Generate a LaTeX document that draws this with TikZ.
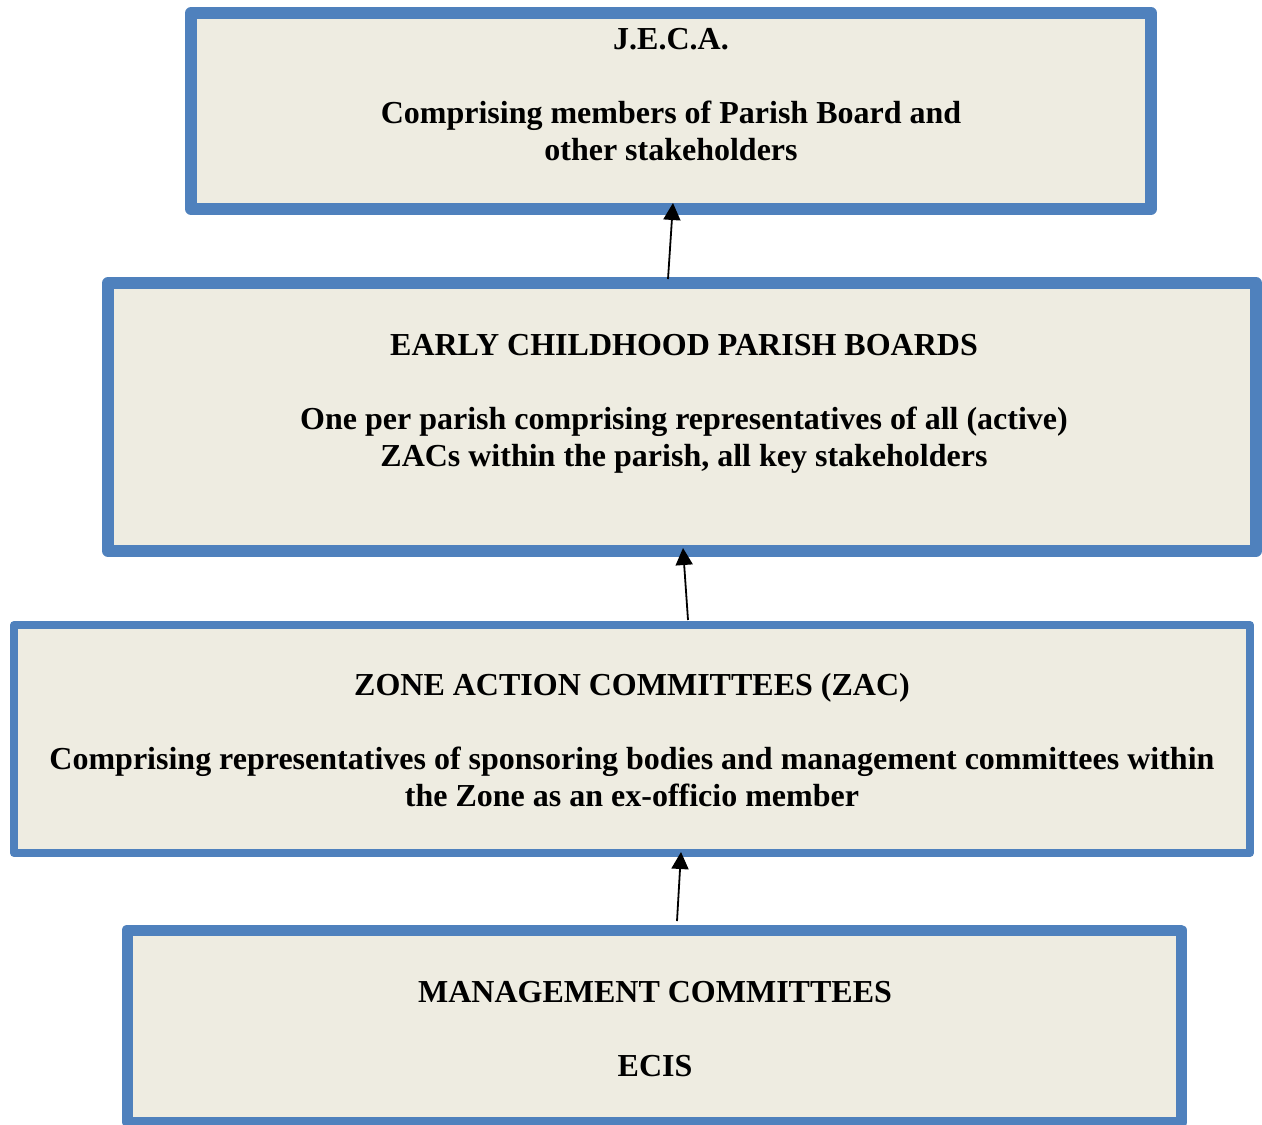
\documentclass[tikz,border=0pt]{standalone}
\usepackage{fontspec}
\setmainfont{Liberation Serif}
\usepackage{xcolor}
\usepackage{tikz}
\usetikzlibrary{arrows.meta,positioning}
\definecolor{zacblue}{HTML}{4F81BD}
\definecolor{zactan}{HTML}{EEECE1}

\begin{document}
\begin{tikzpicture}[
  x=0.5pt,y=-0.5pt,
  box/.style={draw=zacblue,fill=zactan,line join=round,outer sep=0pt,inner sep=0pt},
  txt/.style={align=center,inner sep=0pt,font=\bfseries\fontsize{16pt}{18.5pt}\selectfont},
  conn/.style={-{Triangle[length=8.5pt,width=8.5pt]},line width=0.9pt}]
  \useasboundingbox (0,0) rectangle (1262,1124);
  % boxes, top to bottom
  \node[box,line width=6pt,minimum width=480pt,minimum height=98pt] (jeca) at (671,111) {};
  \node[box,line width=6pt,minimum width=574pt,minimum height=134pt] (parish) at (682,417) {};
  \node[box,line width=4pt,minimum width=618pt,minimum height=114pt] (zac) at (632,739) {};
  \node[box,line width=5.5pt,minimum width=527pt,minimum height=96pt] (mc) at (654,1026) {};
  % texts
  \node[txt,below=7.5pt of jeca.north] (jecatxt) {J.E.C.A.\\[18.5pt]Comprising members of Parish Board and\\other stakeholders};
  \node[txt,below=25.5pt of parish.north,xshift=1pt] (parishtxt) {EARLY CHILDHOOD PARISH BOARDS\\[18.5pt]One per parish comprising representatives of all (active)\\ZACs within the parish, all key stakeholders};
  \node[txt,below=24pt of zac.north] (zactxt) {ZONE ACTION COMMITTEES (ZAC)\\[18.5pt]Comprising representatives of sponsoring bodies and management committees within\\the Zone as an ex-officio member};
  \node[txt,below=25.5pt of mc.north,xshift=0.5pt] (mctxt) {MANAGEMENT COMMITTEES\\[18.5pt]ECIS};
  % arrows upwards
  \draw[conn] ([xshift=-7pt,yshift=2pt]parish.north) -- ([xshift=1pt,yshift=3pt]jeca.south);
  \draw[conn] ([xshift=28pt,yshift=2.5pt]zac.north) -- ([xshift=0.5pt,yshift=1.5pt]parish.south);
  \draw[conn] ([xshift=11.5pt,yshift=4.5pt]mc.north) -- ([xshift=24.5pt,yshift=0.5pt]zac.south);
\end{tikzpicture}
\end{document}
